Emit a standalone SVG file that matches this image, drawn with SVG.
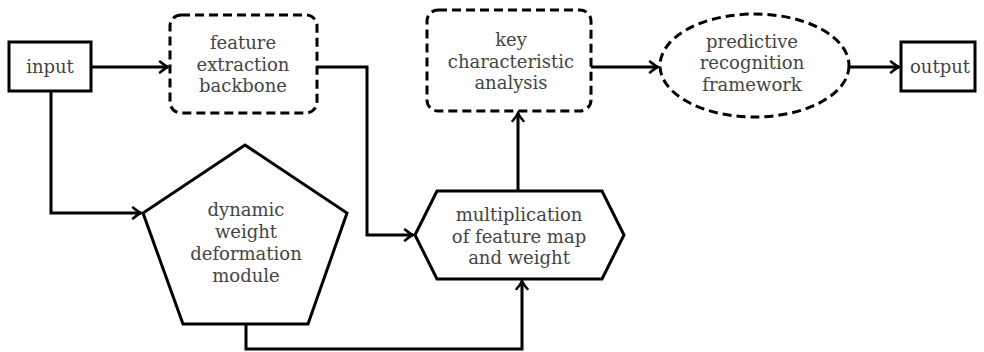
<svg xmlns="http://www.w3.org/2000/svg" width="984" height="352" viewBox="0 0 984 352">
<style>
.n{fill:#fff;stroke:#000;stroke-width:3}
.d{fill:#fff;stroke:#000;stroke-width:3;stroke-dasharray:9 5}
.c{fill:none;stroke:#000;stroke-width:3}
text{font-family:"DejaVu Serif","Liberation Serif",serif;font-size:18px;fill:#444;text-anchor:middle}
</style>
<defs>
<marker id="ah" viewBox="-10 -7 12 14" refX="0" refY="0" markerWidth="12" markerHeight="14" orient="auto" markerUnits="userSpaceOnUse">
<path d="M-8,-5.5 C-4,-2 -1.5,-0.6 0,0 C-1.5,0.6 -4,2 -8,5.5" fill="none" stroke="#000" stroke-width="2.5" stroke-linecap="round"/>
</marker>
</defs>
<g id="connectors">
<path class="c" d="M91,67 H168" marker-end="url(#ah)"/>
<path class="c" d="M51,91 V213 H141" marker-end="url(#ah)"/>
<path class="c" d="M317,67 H367 V235 H413" marker-end="url(#ah)"/>
<path class="c" d="M246,324 V349 H522 V281" marker-end="url(#ah)"/>
<path class="c" d="M518,191 V113" marker-end="url(#ah)"/>
<path class="c" d="M591,67 H658" marker-end="url(#ah)"/>
<path class="c" d="M849,67 H899" marker-end="url(#ah)"/>
</g>
<g id="input">
<rect class="n" x="9" y="42" width="82" height="49"/>
<text x="50" y="73">input</text>
</g>
<g id="feature">
<rect class="d" x="170" y="15" width="147" height="98" rx="11"/>
<text x="243" y="49">feature</text>
<text x="243" y="71">extraction</text>
<text x="243" y="92">backbone</text>
</g>
<g id="pentagon">
<polygon class="n" points="245,145 347,213 308,324 183,324 143,213"/>
<text x="246" y="216">dynamic</text>
<text x="246" y="238">weight</text>
<text x="246" y="260">deformation</text>
<text x="246" y="282">module</text>
</g>
<g id="multiply">
<polygon class="n" points="415,235 437,191 602,191 624,235 602,279 437,279"/>
<text x="519" y="221">multiplication</text>
<text x="519" y="243">of feature map</text>
<text x="519" y="264">and weight</text>
</g>
<g id="key">
<rect class="d" x="427" y="10" width="164" height="101" rx="11"/>
<text x="511" y="46">key</text>
<text x="511" y="68">characteristic</text>
<text x="511" y="89">analysis</text>
</g>
<g id="predictive">
<ellipse class="d" cx="754.5" cy="65.5" rx="94.5" ry="51.5"/>
<text x="752" y="48">predictive</text>
<text x="752" y="69">recognition</text>
<text x="752" y="91">framework</text>
</g>
<g id="output">
<rect class="n" x="901" y="42" width="74" height="49"/>
<text x="940" y="73">output</text>
</g>
</svg>
